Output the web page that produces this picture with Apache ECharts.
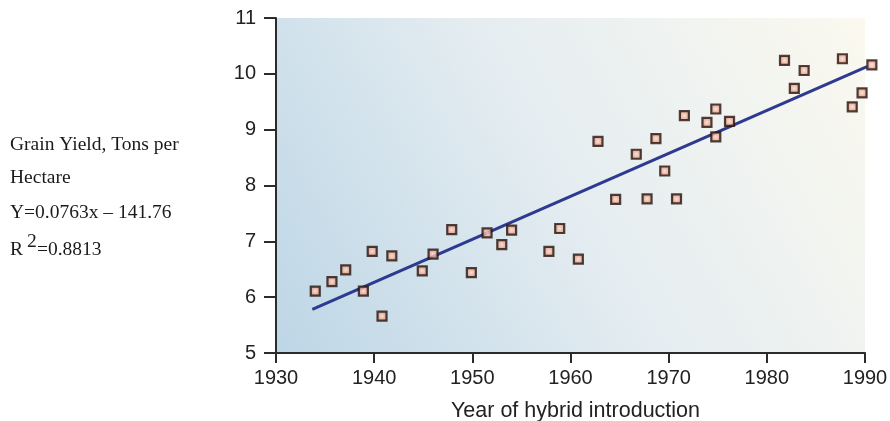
<!DOCTYPE html>
<html>
<head>
<meta charset="utf-8">
<script src="https://cdn.jsdelivr.net/npm/echarts@6/dist/echarts.min.js"></script>
<style>
html,body{margin:0;padding:0;background:#fff;}
#chart{width:890px;height:421px;}
</style>
</head>
<body>
<div id="chart"></div>
<script>
// Data
var years = [1934, 1935.7, 1937.1, 1938.9, 1939.8, 1940.8, 1941.8, 1944.9, 1946.0, 1947.9, 1949.9, 1951.5, 1953.0, 1954.0, 1957.8, 1958.9, 1960.8, 1962.8, 1964.6, 1966.7, 1967.8, 1968.7, 1969.6, 1970.8, 1971.6, 1973.9, 1974.8, 1974.8, 1976.2, 1981.8, 1982.8, 1983.8, 1987.7, 1988.7, 1989.7, 1990.7];
var yields = [6.11, 6.28, 6.49, 6.11, 6.82, 5.66, 6.74, 6.47, 6.77, 7.21, 6.44, 7.15, 6.94, 7.20, 6.82, 7.23, 6.68, 8.79, 7.75, 8.56, 7.76, 8.84, 8.26, 7.76, 9.25, 9.13, 9.37, 8.87, 9.15, 10.24, 9.74, 10.06, 10.27, 9.41, 9.66, 10.16];
var trendYears = [1933.7, 1990.2];
var trendValues = [5.78, 10.13];
var xTicks = [1930, 1940, 1950, 1960, 1970, 1980, 1990];
var yTicks = [5, 6, 7, 8, 9, 10, 11];
var sideLines = ["Grain Yield, Tons per", "Hectare", "Y=0.0763x \u2013 141.76"];
var rSquaredLabel = "R";
var rSquaredSup = "2";
var rSquaredValue = "=0.8813";
var xTitle = "Year of hybrid introduction";

var chart = echarts.init(document.getElementById('chart'), null, {renderer: 'canvas'});

var points = years.map(function (y, i) { return [y, yields[i]]; });
var trend = trendYears.map(function (y, i) { return [y, trendValues[i]]; });

var serif = '"Liberation Serif", "Times New Roman", serif';
var sans = '"Liberation Sans", Arial, Helvetica, sans-serif';
var sideFont = '19.5px ' + serif;

var graphics = [];
var sideY = [145, 178, 213];
sideLines.forEach(function (t, i) {
  graphics.push({type: 'text', left: 10, top: sideY[i] - 10, style: {text: t, font: sideFont, fill: '#1a1a1a'}});
});
graphics.push({type: 'text', left: 10, top: 240, style: {text: rSquaredLabel, font: sideFont, fill: '#1a1a1a'}});
graphics.push({type: 'text', left: 27, top: 232, style: {text: rSquaredSup, font: sideFont, fill: '#1a1a1a'}});
graphics.push({type: 'text', left: 37, top: 240, style: {text: rSquaredValue, font: sideFont, fill: '#1a1a1a'}});

var option = {
  animation: false,
  backgroundColor: '#ffffff',
  grid: {
    left: 276, right: 25, top: 18, bottom: 68,
    outerBoundsMode: 'none',
    containLabel: false,
    show: true,
    borderWidth: 0,
    backgroundColor: new echarts.graphic.LinearGradient(0, 1, 1, 0, [
      {offset: 0, color: '#bdd6e6'},
      {offset: 0.5, color: '#e5edf1'},
      {offset: 1, color: '#fbf9ef'}
    ])
  },
  xAxis: {
    type: 'value',
    min: xTicks[0], max: xTicks[xTicks.length - 1], interval: 10,
    name: xTitle,
    nameLocation: 'middle',
    nameGap: 47,
    nameTextStyle: {fontFamily: sans, fontSize: 21.5, color: '#222', padding: [0, 0, 0, 10]},
    axisLine: {show: true, lineStyle: {color: '#2b2b2b', width: 2}},
    axisTick: {show: true, length: 10, lineStyle: {color: '#2b2b2b', width: 2}},
    axisLabel: {fontFamily: sans, fontSize: 20, color: '#222', margin: 15, formatter: function (v) { return String(v); }},
    splitLine: {show: false}
  },
  yAxis: {
    type: 'value',
    min: yTicks[0], max: yTicks[yTicks.length - 1], interval: 1,
    axisLine: {show: true, lineStyle: {color: '#2b2b2b', width: 2}},
    axisTick: {show: true, length: 12, lineStyle: {color: '#2b2b2b', width: 2}},
    axisLabel: {fontFamily: sans, fontSize: 20, color: '#222', margin: 20, formatter: function (v) { return String(v); }},
    splitLine: {show: false}
  },
  graphic: graphics,
  series: [
    {
      type: 'line',
      data: trend,
      symbol: 'none',
      clip: false,
      lineStyle: {color: '#2d3a8f', width: 3},
      z: 2
    },
    {
      type: 'scatter',
      data: points,
      symbol: 'rect',
      symbolSize: 9,
      clip: false,
      itemStyle: {
        color: new echarts.graphic.RadialGradient(0.5, 0.5, 0.6, [
          {offset: 0, color: '#fde0cc'},
          {offset: 1, color: '#d26a58'}
        ]),
        borderColor: '#24140f',
        borderWidth: 2.2
      },
      z: 3
    }
  ]
};
chart.setOption(option);
</script>
</body>
</html>
